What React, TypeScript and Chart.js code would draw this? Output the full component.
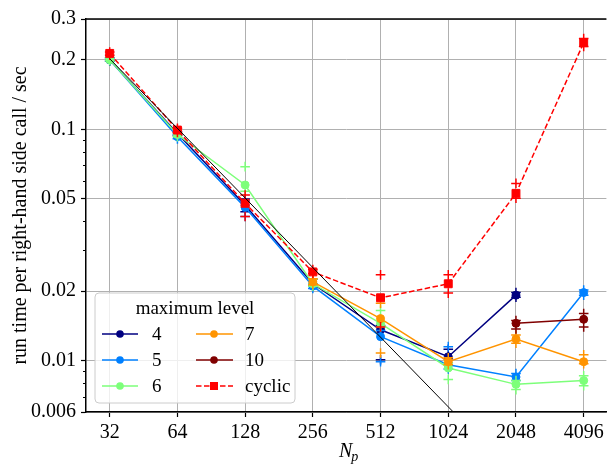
import React, { useEffect, useRef } from 'react';
import { Chart, registerables } from 'chart.js';

Chart.register(...registerables);

// ---- data ----
const Np = [32, 64, 128, 256, 512, 1024, 2048, 4096];
const yTicks = [0.006, 0.01, 0.02, 0.05, 0.1, 0.2, 0.3];
const yMinorTicks = [0.007, 0.008, 0.009, 0.03, 0.04, 0.06, 0.07, 0.08, 0.09];

const level4Mean = [0.2, 0.096, 0.047, 0.0215, 0.0136, 0.0104, 0.0192, null];
const level4Lo = [0.197, 0.094, 0.044, 0.021, 0.0101, 0.0102, 0.0188, null];
const level4Hi = [0.204, 0.098, 0.05, 0.0225, 0.0142, 0.0112, 0.0197, null];

const level5Mean = [0.2, 0.093, 0.046, 0.021, 0.0127, 0.0096, 0.0085, 0.0197];
const level5Lo = [0.198, 0.091, 0.042, 0.0205, 0.0099, 0.0092, 0.0082, 0.0192];
const level5Hi = [0.203, 0.095, 0.049, 0.0215, 0.0135, 0.0115, 0.0088, 0.0202];

const level6Mean = [0.2, 0.095, 0.0575, 0.0215, 0.0145, 0.0093, 0.0079, 0.0082];
const level6Lo = [0.198, 0.093, 0.054, 0.021, 0.014, 0.0083, 0.0075, 0.0078];
const level6Hi = [0.203, 0.097, 0.069, 0.0225, 0.0165, 0.0098, 0.0082, 0.0086];

const level7Mean = [null, null, null, 0.0219, 0.0152, 0.0099, 0.0124, 0.0099];
const level7Lo = [null, null, null, 0.0213, 0.0108, 0.0096, 0.0119, 0.0097];
const level7Hi = [null, null, null, 0.0226, 0.0177, 0.0103, 0.0129, 0.0106];

const level10Mean = [null, null, null, null, null, null, 0.0145, 0.0151];
const level10Lo = [null, null, null, null, null, null, 0.0137, 0.014];
const level10Hi = [null, null, null, null, null, null, 0.0149, 0.016];

const cyclicMean = [0.213, 0.0993, 0.0479, 0.0242, 0.0187, 0.0215, 0.0529, 0.237];
const cyclicLo = [0.209, 0.097, 0.042, 0.0238, 0.014, 0.0196, 0.0504, 0.228];
const cyclicHi = [0.216, 0.101, 0.052, 0.0248, 0.0235, 0.0235, 0.0584, 0.247];

// ideal scaling reference line (endpoints)
const idealNp = [32, 4096];
const idealTime = [0.202, 0.00158];

const seriesLabels = ['4', '5', '6', '7', '10', 'cyclic'];
const seriesColors = ['#000080', '#0080ff', '#7dff7a', '#ff9400', '#800000', '#ff0000'];

const FONT = "'Liberation Serif', 'Times New Roman', serif";

type Pt = { x: number; y: number };
const pts = (xs: number[], arr: (number | null)[]): Pt[] =>
  xs
    .map((n, i) => ({ x: Math.log2(n), y: arr[i] as number }))
    .filter((p) => p.y != null);

const decorPlugin = {
  id: 'decor',
  afterDraw(chart: any) {
    const { ctx, chartArea, scales } = chart;
    ctx.save();
    // top spine
    ctx.strokeStyle = '#000';
    ctx.lineWidth = 1.5;
    ctx.beginPath();
    ctx.moveTo(chartArea.left - 0.75, chartArea.top);
    ctx.lineTo(chartArea.right, chartArea.top);
    ctx.stroke();
    // minor ticks on y axis
    ctx.lineWidth = 1;
    for (const v of yMinorTicks) {
      const y = Math.round(scales.y.getPixelForValue(v)) + 0.5;
      ctx.beginPath();
      ctx.moveTo(chartArea.left - 3, y);
      ctx.lineTo(chartArea.left, y);
      ctx.stroke();
    }
    // x axis label N_p
    ctx.fillStyle = '#000';
    ctx.textBaseline = 'alphabetic';
    ctx.textAlign = 'left';
    ctx.font = `italic 20px ${FONT}`;
    const nW = ctx.measureText('N').width;
    const xl = 339;
    ctx.fillText('N', xl, 457);
    ctx.font = `italic 14px ${FONT}`;
    ctx.fillText('p', xl + nW - 1, 461);

    // legend
    const bx = 95, by = 293, bw = 200, bh = 110, r = 4;
    ctx.beginPath();
    ctx.moveTo(bx + r, by);
    ctx.lineTo(bx + bw - r, by);
    ctx.quadraticCurveTo(bx + bw, by, bx + bw, by + r);
    ctx.lineTo(bx + bw, by + bh - r);
    ctx.quadraticCurveTo(bx + bw, by + bh, bx + bw - r, by + bh);
    ctx.lineTo(bx + r, by + bh);
    ctx.quadraticCurveTo(bx, by + bh, bx, by + bh - r);
    ctx.lineTo(bx, by + r);
    ctx.quadraticCurveTo(bx, by, bx + r, by);
    ctx.closePath();
    ctx.fillStyle = 'rgba(255,255,255,0.8)';
    ctx.fill();
    ctx.strokeStyle = '#cccccc';
    ctx.lineWidth = 1;
    ctx.stroke();

    ctx.fillStyle = '#000';
    ctx.font = `19px ${FONT}`;
    ctx.textAlign = 'center';
    ctx.textBaseline = 'middle';
    ctx.fillText('maximum level', bx + bw / 2, 309);

    const rows = [334, 360, 386];
    const cols = [
      { l0: 102, l1: 138, m: 120, t: 152 },
      { l0: 196, l1: 233, m: 214, t: 245 },
    ];
    seriesLabels.forEach((lab, i) => {
      const c = cols[Math.floor(i / 3)];
      const y = rows[i % 3];
      const color = seriesColors[i];
      const cyc = lab === 'cyclic';
      ctx.strokeStyle = color;
      ctx.lineWidth = 1.5;
      ctx.setLineDash(cyc ? [5.5, 2.5] : []);
      ctx.beginPath();
      ctx.moveTo(c.l0, y);
      ctx.lineTo(c.l1, y);
      ctx.stroke();
      ctx.setLineDash([]);
      ctx.fillStyle = color;
      if (cyc) {
        ctx.fillRect(c.m - 4, y - 4, 8, 8);
      } else {
        ctx.beginPath();
        ctx.arc(c.m, y, 3.8, 0, Math.PI * 2);
        ctx.fill();
      }
      ctx.fillStyle = '#000';
      ctx.textAlign = 'left';
      ctx.textBaseline = 'middle';
      ctx.font = `19px ${FONT}`;
      ctx.fillText(lab, c.t, y + 1);
    });
    ctx.restore();
  },
};

export default function App() {
  const ref = useRef<HTMLCanvasElement | null>(null);

  useEffect(() => {
    const canvas = ref.current;
    if (!canvas) return;
    document.body.style.margin = '0';

    const means = [level4Mean, level5Mean, level6Mean, level7Mean, level10Mean, cyclicMean];
    const los = [level4Lo, level5Lo, level6Lo, level7Lo, level10Lo, cyclicLo];
    const his = [level4Hi, level5Hi, level6Hi, level7Hi, level10Hi, cyclicHi];

    const datasets: any[] = [];
    seriesLabels.forEach((lab, i) => {
      const color = seriesColors[i];
      const cyc = lab === 'cyclic';
      const ord = (seriesLabels.length - i) * 2;
      datasets.push({
        label: lab,
        data: pts(Np, means[i]),
        borderColor: color,
        backgroundColor: color,
        borderWidth: 1.5,
        borderDash: cyc ? [5.5, 2.5] : [],
        pointStyle: cyc ? 'rect' : 'circle',
        pointRadius: cyc ? 5.6 : 4,
        pointBorderWidth: 1,
        pointBorderColor: color,
        pointBackgroundColor: color,
        tension: 0,
        order: ord,
      });
      datasets.push({
        label: lab + ' range',
        data: pts(Np, los[i]).concat(pts(Np, his[i])),
        showLine: false,
        borderColor: color,
        backgroundColor: color,
        pointStyle: 'cross',
        pointRadius: 4.8,
        pointBorderWidth: 1.5,
        pointBorderColor: color,
        order: ord - 1,
      });
    });
    datasets.push({
      label: 'ideal',
      data: pts(idealNp, idealTime),
      borderColor: '#000',
      borderWidth: 1,
      pointRadius: 0,
      order: -1,
    });

    const chart = new Chart(canvas, {
      type: 'line',
      data: { datasets },
      options: {
        animation: false,
        responsive: false,
        devicePixelRatio: 1,
        layout: { padding: { top: 19, right: 0, left: 0, bottom: 0 } },
        plugins: { legend: { display: false }, tooltip: { enabled: false } },
        scales: {
          x: {
            type: 'linear',
            min: 4.65,
            max: 12.3354,
            afterBuildTicks: (scale: any) => {
              scale.ticks = Np.map((n) => ({ value: Math.log2(n) }));
            },
            afterFit: (scale: any) => {
              scale.height = 54;
            },
            ticks: {
              autoSkip: false,
              maxRotation: 0,
              padding: 4,
              color: '#000',
              font: { family: FONT, size: 20 },
              callback: (v: any) => String(Math.round(Math.pow(2, Number(v)))),
            },
            grid: {
              color: '#b0b0b0',
              lineWidth: 1,
              tickColor: '#000',
              tickLength: 5,
              tickWidth: 1.2,
            },
            border: { color: '#000', width: 1.5 },
          },
          y: {
            type: 'logarithmic',
            min: 0.006,
            max: 0.3,
            afterBuildTicks: (scale: any) => {
              scale.ticks = yTicks.map((v) => ({ value: v }));
            },
            afterFit: (scale: any) => {
              scale.width = 86;
            },
            ticks: {
              autoSkip: false,
              padding: 5,
              color: '#000',
              font: { family: FONT, size: 20 },
              callback: (v: any) => String(v),
            },
            grid: {
              color: '#b0b0b0',
              lineWidth: 1,
              tickColor: '#000',
              tickLength: 5,
              tickWidth: 1.2,
            },
            border: { color: '#000', width: 1.5 },
            title: {
              display: true,
              text: 'run time per right-hand side call / sec',
              color: '#000',
              font: { family: FONT, size: 20 },
              padding: { top: 9, bottom: 0 },
            },
          },
        },
      },
      plugins: [decorPlugin],
    } as any);

    return () => chart.destroy();
  }, []);

  return (
    <div style={{ position: 'absolute', left: 0, top: 0, width: 613, height: 466 }}>
      <canvas ref={ref} width={613} height={466} style={{ width: 613, height: 466 }} />
    </div>
  );
}
